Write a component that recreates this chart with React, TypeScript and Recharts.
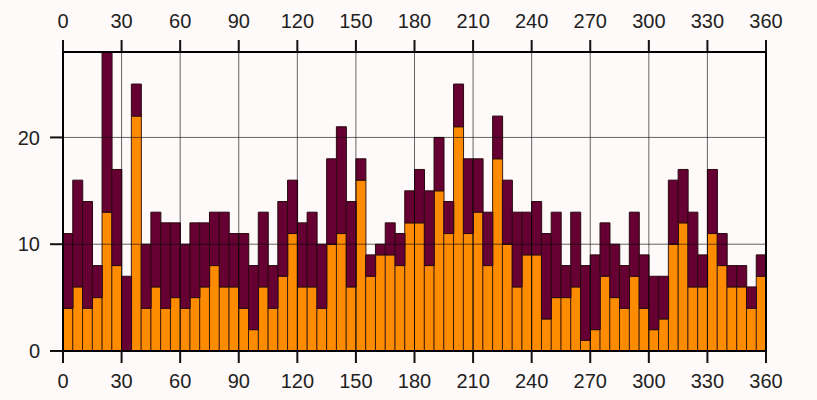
import React from 'react';
import { ComposedChart, Bar, XAxis, YAxis, CartesianGrid } from 'recharts';

// 5-degree bins, 0..360
const binStarts: number[] = Array.from({ length: 72 }, (_, i) => i * 5);

const totalCounts: number[] = [
  11, 16, 14, 8, 28, 17, 7, 25, 10, 13,
  12, 12, 10, 12, 12, 13, 13, 11, 11, 8,
  13, 8, 14, 16, 12, 13, 10, 18, 21, 14,
  18, 9, 10, 12, 11, 15, 17, 15, 20, 14,
  25, 18, 18, 13, 22, 16, 13, 13, 14, 11,
  13, 8, 13, 8, 9, 12, 10, 8, 13, 9,
  7, 7, 16, 17, 13, 9, 17, 11, 8, 8, 6, 9,
];

const subsetCounts: number[] = [
  4, 6, 4, 5, 13, 8, 0, 22, 4, 6,
  4, 5, 4, 5, 6, 8, 6, 6, 4, 2,
  6, 4, 7, 11, 6, 6, 4, 10, 11, 6,
  16, 7, 9, 9, 8, 12, 12, 8, 15, 11,
  21, 11, 13, 8, 18, 10, 6, 9, 9, 3,
  5, 5, 6, 1, 2, 7, 5, 4, 7, 4,
  2, 3, 10, 12, 6, 6, 11, 8, 6, 6, 4, 7,
];

const xTicks: number[] = [0, 30, 60, 90, 120, 150, 180, 210, 240, 270, 300, 330, 360];
const yTicks: number[] = [0, 10, 20];

const data = binStarts.map((start, i) => ({
  angle: start + 2.5,
  subset: subsetCounts[i],
  rest: totalCounts[i] - subsetCounts[i],
}));

const font = { fontFamily: '"Liberation Sans", Arial, sans-serif', fontSize: 20, fill: '#222' };
const tickLine = { stroke: '#111', strokeWidth: 2 };
const axisLine = { stroke: '#000', strokeWidth: 2 };

const RightTick = (props: any) => {
  const { x, y, payload } = props;
  return (
    <text x={x + 33} y={y} dy="0.355em" textAnchor="end" {...font}>
      {payload.value}
    </text>
  );
};

export default function App() {
  return (
    <div style={{ position: 'absolute', left: 0, top: 0, width: 817, height: 400, background: '#fffafa' }}>
      <ComposedChart
        width={817}
        height={400}
        data={data}
        margin={{ top: 0, right: 0, bottom: 0, left: 0 }}
        barCategoryGap={0}
        barGap={0}
      >
        <XAxis
          dataKey="angle"
          type="number"
          domain={[0, 360]}
          ticks={xTicks}
          interval={0}
          height={49}
          tickSize={12}
          tickMargin={11}
          tick={font}
          tickLine={tickLine}
          axisLine={axisLine}
        />
        <XAxis
          xAxisId="top"
          dataKey="angle"
          orientation="top"
          type="number"
          domain={[0, 360]}
          ticks={xTicks}
          interval={0}
          height={52}
          tickSize={12}
          tickMargin={12}
          tick={font}
          tickLine={tickLine}
          axisLine={axisLine}
        />
        <YAxis
          type="number"
          domain={[0, 28]}
          ticks={yTicks}
          interval={0}
          width={63}
          tickSize={13}
          tickMargin={10}
          tick={font}
          tickLine={tickLine}
          axisLine={axisLine}
        />
        <YAxis
          yAxisId="right"
          orientation="right"
          type="number"
          domain={[0, 28]}
          ticks={yTicks}
          interval={0}
          width={51}
          tickSize={13}
          tickMargin={0}
          tick={<RightTick />}
          tickLine={tickLine}
          axisLine={axisLine}
        />
        <Bar dataKey="subset" stackId="a" fill="#ff8c00" stroke="#3a1a10" strokeWidth={1} isAnimationActive={false} />
        <Bar dataKey="rest" stackId="a" fill="#660033" stroke="#2a0a10" strokeWidth={1} isAnimationActive={false} />
        <CartesianGrid
          stroke="#000"
          strokeOpacity={0.6}
          strokeWidth={1}
          verticalValues={xTicks}
          horizontalValues={yTicks}
          zIndex={600}
        />
      </ComposedChart>
    </div>
  );
}
